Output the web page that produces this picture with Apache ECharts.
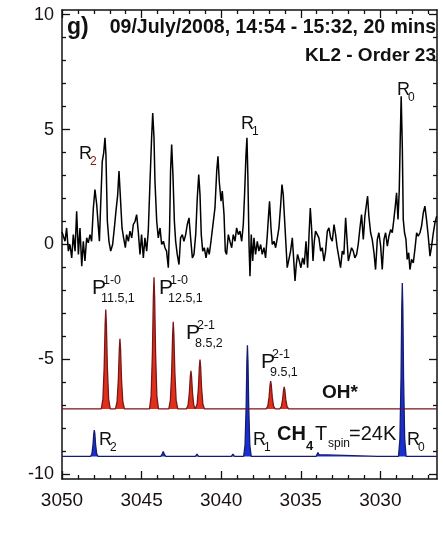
<!DOCTYPE html>
<html>
<head>
<meta charset="utf-8">
<script src="https://cdn.jsdelivr.net/npm/echarts@6/dist/echarts.min.js"></script>
<style>html,body{margin:0;padding:0;background:#fff}#c{width:444px;height:534px}</style>
</head>
<body>
<div id="c"></div>
<script>
// ---- axis extents / ticks ----
var xMin = 3026.44, xMax = 3050;
var yMin = -10.2, yMax = 10.2;
var xMajor = [3050, 3045, 3040, 3035, 3030];
var xMinor = [3049,3048,3047,3046,3044,3043,3042,3041,3039,3038,3037,3036,3034,3033,3032,3031,3029,3028,3027];
var yMajor = [-10, -5, 0, 5, 10];
var yMinor = [-9,-8,-7,-6,-4,-3,-2,-1,1,2,3,4,6,7,8,9];

// ---- observed spectrum (wavenumber, signal) ----
var observed = [[3050.00,0.55],[3049.92,0.58],[3049.81,0.14],[3049.71,0.72],[3049.60,-0.29],[3049.50,0.00],[3049.39,-0.58],[3049.29,0.43],[3049.18,-0.29],[3049.08,1.45],[3048.97,-0.43],[3048.87,0.72],[3048.76,-0.94],[3048.66,0.14],[3048.56,-0.72],[3048.45,0.29],[3048.35,0.07],[3048.24,0.43],[3048.14,0.14],[3048.03,1.59],[3047.93,2.39],[3047.82,1.74],[3047.72,0.80],[3047.65,0.14],[3047.57,1.74],[3047.47,3.62],[3047.38,3.99],[3047.30,4.64],[3047.24,3.91],[3047.15,1.01],[3047.05,0.14],[3046.94,-0.29],[3046.82,0.00],[3046.71,0.72],[3046.61,1.45],[3046.50,2.17],[3046.42,3.19],[3046.34,2.17],[3046.23,0.72],[3046.13,0.29],[3046.02,-0.14],[3045.94,0.43],[3045.83,0.14],[3045.73,0.58],[3045.62,0.29],[3045.52,0.87],[3045.41,1.01],[3045.31,1.30],
[3045.21,0.58],[3045.10,-0.43],[3045.00,0.43],[3044.89,-0.58],[3044.79,0.29],[3044.68,-0.29],[3044.58,0.58],[3044.47,2.75],[3044.37,4.64],[3044.30,5.72],[3044.22,4.64],[3044.16,2.75],[3044.05,1.01],[3043.95,0.29],[3043.84,0.72],[3043.74,0.00],[3043.63,0.14],[3043.53,-0.14],[3043.43,-0.29],[3043.32,-1.01],[3043.24,0.72],[3043.18,3.19],[3043.11,4.35],[3043.03,3.04],[3042.94,1.01],[3042.86,0.14],[3042.76,-0.43],[3042.65,-0.87],[3042.55,0.29],[3042.44,0.43],[3042.34,0.14],[3042.23,0.43],[3042.13,0.87],[3042.02,1.16],[3041.92,0.29],[3041.81,-0.58],[3041.71,-0.43],[3041.60,0.43],[3041.50,2.03],[3041.41,3.04],[3041.33,2.17],[3041.25,0.43],[3041.16,-0.29],[3041.06,-0.14],[3040.95,-0.58],[3040.85,-0.14],[3040.75,-0.43],[3040.64,0.14],[3040.54,0.72],
[3040.39,1.59],[3040.28,3.19],[3040.20,3.84],[3040.12,2.75],[3040.01,1.88],[3039.93,2.32],[3039.82,1.30],[3039.74,-0.29],[3039.66,-0.43],[3039.55,0.43],[3039.45,0.14],[3039.34,-0.14],[3039.24,0.43],[3039.13,0.14],[3039.03,0.72],[3038.92,0.43],[3038.82,0.58],[3038.71,0.14],[3038.61,0.87],[3038.53,2.17],[3038.44,3.91],[3038.38,4.64],[3038.32,2.90],[3038.25,0.00],[3038.19,-1.38],[3038.11,0.43],[3038.02,-0.72],[3037.94,0.29],[3037.84,-0.43],[3037.73,0.14],[3037.63,-0.29],[3037.52,0.00],[3037.42,-0.43],[3037.31,-0.14],[3037.21,-0.58],[3037.10,0.43],[3037.02,1.30],[3036.96,1.88],[3036.87,0.72],[3036.79,0.00],[3036.68,0.14],[3036.58,-0.14],[3036.47,0.29],[3036.37,0.72],[3036.26,1.74],[3036.18,2.61],[3036.10,2.17],[3036.01,1.01],[3035.93,0.00],[3035.85,-1.01],
[3035.74,-1.01],[3035.64,-0.29],[3035.53,0.29],[3035.45,-0.58],[3035.36,-1.59],[3035.28,-0.87],[3035.20,-0.43],[3035.09,-0.72],[3034.99,-1.01],[3034.88,-0.58],[3034.78,-0.87],[3034.67,0.14],[3034.57,-1.01],[3034.46,0.72],[3034.40,1.59],[3034.32,0.72],[3034.23,-0.72],[3034.15,0.14],[3034.07,0.58],[3033.96,0.43],[3033.86,0.29],[3033.75,-0.29],[3033.65,-0.14],[3033.54,-0.72],[3033.44,-0.29],[3033.33,0.58],[3033.23,0.72],[3033.12,0.29],[3033.02,0.14],[3032.91,0.87],[3032.81,0.43],[3032.71,-0.14],[3032.60,-0.58],[3032.50,-1.01],[3032.39,-0.29],[3032.29,-0.43],[3032.18,1.16],[3032.10,0.29],[3032.01,-0.72],[3031.91,-0.43],[3031.81,-0.14],[3031.70,-0.29],[3031.60,-0.58],[3031.49,-0.43],[3031.39,0.00],[3031.28,0.72],[3031.18,1.30],
[3031.07,0.22],[3030.97,1.23],[3030.86,1.81],[3030.80,2.10],[3030.72,1.23],[3030.61,0.51],[3030.51,0.22],[3030.40,-0.36],[3030.30,-1.09],[3030.19,0.22],[3030.09,0.51],[3029.98,-0.07],[3029.88,-1.09],[3029.77,0.22],[3029.67,0.51],[3029.56,-0.07],[3029.46,0.36],[3029.35,0.65],[3029.25,0.51],[3029.15,1.09],[3029.06,1.67],[3028.98,2.25],[3028.89,1.09],[3028.81,2.39],[3028.75,4.57],[3028.69,6.45],[3028.62,4.28],[3028.56,1.09],[3028.48,0.51],[3028.39,0.22],[3028.31,-0.65],[3028.22,-0.36],[3028.14,-1.09],[3028.04,-0.65],[3027.93,-0.80],[3027.83,-0.22],[3027.72,0.51],[3027.62,0.36],[3027.51,0.51],[3027.41,0.80],[3027.30,1.38],[3027.20,1.67],[3027.10,1.09],[3026.99,0.36],[3026.88,-0.51],[3026.78,-0.07],[3026.67,0.51],[3026.57,0.94],[3026.46,1.23]];

// ---- OH* model (offset baseline -7.15) ----
var ohBase = -7.15;
var ohModel = [[3050.00,-7.15],
[3047.53,-7.15],[3047.43,-6.72],[3047.35,-5.34],[3047.29,-3.48],[3047.25,-2.83],[3047.21,-3.48],[3047.15,-5.34],[3047.07,-6.72],[3046.97,-7.15],
[3046.64,-7.15],[3046.54,-6.84],[3046.46,-5.87],[3046.40,-4.56],[3046.36,-4.10],[3046.32,-4.56],[3046.26,-5.87],[3046.18,-6.84],[3046.08,-7.15],
[3044.50,-7.15],[3044.40,-6.58],[3044.32,-4.74],[3044.26,-2.28],[3044.22,-1.42],[3044.18,-2.28],[3044.12,-4.74],[3044.04,-6.58],[3043.94,-7.15],
[3043.29,-7.15],[3043.19,-6.77],[3043.11,-5.56],[3043.05,-3.93],[3043.01,-3.36],[3042.97,-3.93],[3042.91,-5.56],[3042.83,-6.77],[3042.73,-7.15],
[3042.18,-7.15],[3042.08,-6.99],[3042.00,-6.46],[3041.94,-5.75],[3041.90,-5.50],[3041.86,-5.75],[3041.80,-6.46],[3041.72,-6.99],[3041.62,-7.15],
[3041.61,-7.15],[3041.51,-6.94],[3041.43,-6.25],[3041.37,-5.32],[3041.33,-5.00],[3041.29,-5.32],[3041.23,-6.25],[3041.15,-6.94],[3041.05,-7.15],
[3037.17,-7.15],[3037.07,-7.03],[3036.99,-6.64],[3036.93,-6.12],[3036.89,-5.94],[3036.85,-6.12],[3036.79,-6.64],[3036.71,-7.03],[3036.61,-7.15],
[3036.32,-7.15],[3036.22,-7.05],[3036.14,-6.75],[3036.08,-6.33],[3036.04,-6.19],[3036.00,-6.33],[3035.94,-6.75],[3035.86,-7.05],[3035.76,-7.15],
[3026.44,-7.15]];

// ---- CH4 model (offset baseline -9.22) ----
var ch4Base = -9.22;
var ch4Model = [[3050.00,-9.22],
[3048.21,-9.22],[3048.12,-9.11],[3048.05,-8.70],[3048.005,-8.24],[3047.97,-8.07],[3047.935,-8.24],[3047.89,-8.70],[3047.82,-9.11],[3047.73,-9.22],
[3045.95,-9.22],[3045.85,-9.16],[3045.75,-9.22],
[3043.80,-9.22],[3043.70,-9.10],[3043.64,-9.00],[3043.58,-9.10],[3043.48,-9.22],
[3041.62,-9.22],[3041.52,-9.12],[3041.42,-9.22],
[3040.60,-9.22],[3040.51,-9.15],[3040.42,-9.22],
[3039.36,-9.22],[3039.26,-9.12],[3039.16,-9.22],
[3038.59,-9.22],[3038.50,-8.74],[3038.43,-7.04],[3038.385,-5.11],[3038.35,-4.38],[3038.315,-5.11],[3038.27,-7.04],[3038.20,-8.74],[3038.11,-9.22],
[3036.18,-9.22],[3036.10,-9.18],[3036.02,-9.22],
[3034.75,-9.22],[3034.67,-9.16],[3034.59,-9.22],
[3034.04,-9.22],[3033.98,-9.14],[3033.92,-9.05],[3033.86,-9.14],[3033.80,-9.22],
[3030.17,-9.22],[3030.09,-9.17],[3030.01,-9.22],
[3028.86,-9.22],[3028.77,-8.47],[3028.70,-5.82],[3028.655,-2.80],[3028.62,-1.67],[3028.585,-2.80],[3028.54,-5.82],[3028.47,-8.47],[3028.38,-9.22],
[3027.34,-9.22],[3027.26,-9.18],[3027.18,-9.22],
[3026.44,-9.22]];

// ---- text ----
var panelTag = 'g)';
var titleLine1 = '09/July/2008, 14:54 - 15:32, 20 mins';
var titleLine2 = 'KL2 - Order 23';

var FONT = '"Liberation Sans", Arial, sans-serif';
var INK = '#111';

function plain(v) { return String(v); }

function xAx(pos, ticks, len, showLine, labels) {
  return {
    type: 'value', position: pos, min: xMin, max: xMax, inverse: true,
    axisLine: {show: showLine, onZero: false, lineStyle: {color: INK, width: 1.5}},
    axisTick: {show: true, inside: true, length: len, customValues: ticks, lineStyle: {color: INK, width: 1.3}},
    axisLabel: labels ? {show: true, customValues: ticks, formatter: plain, margin: 12, fontSize: 19, color: '#1a1010', fontFamily: FONT} : {show: false},
    splitLine: {show: false}
  };
}
function yAx(pos, ticks, len, showLine, labels) {
  return {
    type: 'value', position: pos, min: yMin, max: yMax,
    axisLine: {show: showLine, onZero: false, lineStyle: {color: INK, width: 1.5}},
    axisTick: {show: true, inside: true, length: len, customValues: ticks, lineStyle: {color: INK, width: 1.3}},
    axisLabel: labels ? {show: true, customValues: ticks, formatter: plain, margin: 8, fontSize: 18, color: '#1a1010', fontFamily: FONT} : {show: false},
    splitLine: {show: false}
  };
}

function T(x, y, s, size, weight, color, align) {
  return {type: 'text', x: x, y: y, z: 100, silent: true,
    style: {text: s, fontSize: size, fontWeight: weight || 'normal', fontFamily: FONT, fill: color || INK,
      align: align || 'left', verticalAlign: 'middle', textAlign: align || 'left', textVerticalAlign: 'middle'}};
}
function Rlab(x, y, sub, subColor) {
  return [T(x, y, 'R', 18), T(x + 11, y + 8, sub, 12, 'normal', subColor || INK)];
}
function Plab(x, y, sup, sub) {
  return [T(x, y, 'P', 21), T(x + 11, y - 7, sup, 12.5), T(x + 9, y + 11, sub, 12.5)];
}

var elements = [].concat(
  [T(67, 28, panelTag, 23, 'bold'),
   T(436, 28, titleLine1, 19.5, 'bold', INK, 'right'),
   T(436, 56, titleLine2, 19, 'bold', INK, 'right')],
  Rlab(397, 90, '0'), Rlab(241, 124, '1'), Rlab(79, 154, '2', '#7a1a1a'),
  Plab(92, 288, '1-0', '11.5,1'), Plab(159, 288, '1-0', '12.5,1'),
  Plab(186, 333, '2-1', '8.5,2'), Plab(261, 362, '2-1', '9.5,1'),
  [T(322, 393, 'OH*', 19, 'bold'),
   T(277, 434, 'CH', 20, 'bold'), T(306, 446, '4', 13, 'bold'),
   T(315, 434, 'T', 20), T(328, 444, 'spin', 12), T(349, 434, '=24K', 20)],
  Rlab(99, 440, '2'), Rlab(253, 440, '1'), Rlab(407, 440, '0')
);

var chart = echarts.init(document.getElementById('c'), null, {renderer: 'canvas'});
chart.setOption({
  animation: false,
  backgroundColor: '#fff',
  grid: {left: 62, right: 7, top: 10, bottom: 55},
  xAxis: [xAx('bottom', xMajor, 8, true, true), xAx('bottom', xMinor, 4, false, false),
          xAx('top', xMajor, 8, true, false), xAx('top', xMinor, 4, false, false)],
  yAxis: [yAx('left', yMajor, 8, true, true), yAx('left', yMinor, 4, false, false),
          yAx('right', yMajor, 8, true, false), yAx('right', yMinor, 4, false, false)],
  series: [
    {type: 'line', name: 'OH*', data: ohModel, showSymbol: false, z: 3,
     lineStyle: {color: '#7a1616', width: 1.3},
     areaStyle: {color: '#e0301c', opacity: 1, origin: ohBase}},
    {type: 'line', name: 'CH4', data: ch4Model, showSymbol: false, z: 3,
     lineStyle: {color: '#141c70', width: 1.3},
     areaStyle: {color: '#1a2fd0', opacity: 1, origin: ch4Base}},
    {type: 'line', name: 'observed', data: observed, showSymbol: false, z: 4,
     lineStyle: {color: '#000', width: 1.5}}
  ],
  graphic: {elements: elements}
});
</script>
</body>
</html>
